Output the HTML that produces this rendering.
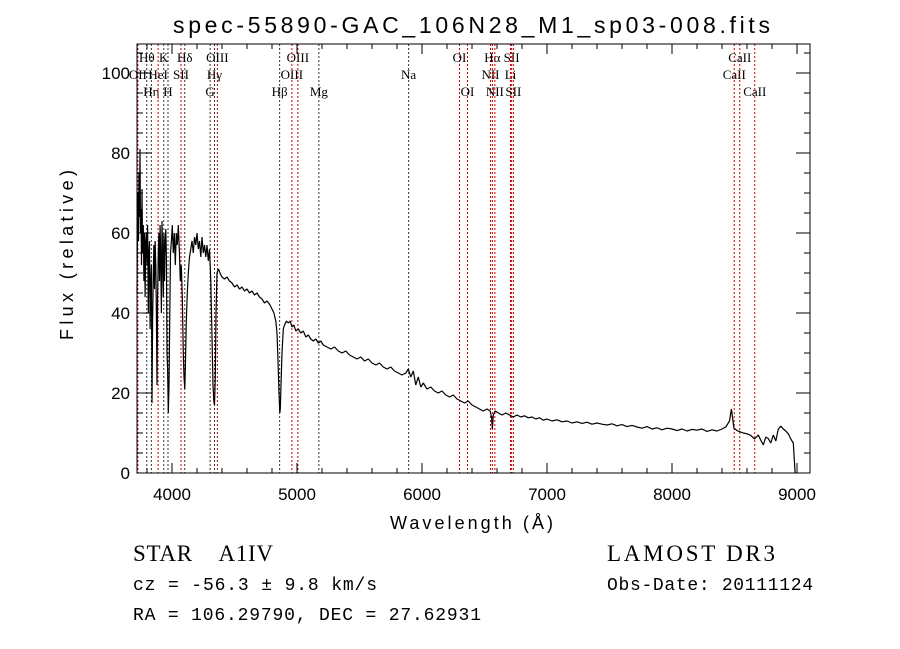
<!DOCTYPE html>
<html><head><meta charset="utf-8"><style>
body{margin:0;background:#fff;}
svg{display:block;font-family:"Liberation Sans",sans-serif;}
</style></head><body>
<svg id="chart" width="900" height="649" viewBox="0 0 900 649">
<text x="173" y="33" font-size="23" textLength="597" lengthAdjust="spacing">spec-55890-GAC_106N28_M1_sp03-008.fits</text>
<g id="lines"></g>
<g id="axes"></g>
<path id="spec" fill="none" stroke="#000" stroke-width="1.2" stroke-linejoin="bevel"/>
<text x="390" y="529" font-size="18" textLength="163" lengthAdjust="spacing">Wavelength (Å)</text>
<text transform="translate(73,340) rotate(-90)" font-size="18" textLength="170" lengthAdjust="spacing">Flux (relative)</text>
<text x="133" y="561" font-size="23" textLength="140" lengthAdjust="spacing" font-family="Liberation Serif,serif">STAR &#160;&#160;&#160;A1IV</text>
<text x="607" y="561" font-size="23" textLength="168" lengthAdjust="spacing" font-family="Liberation Serif,serif">LAMOST DR3</text>
<text x="133" y="590" font-size="18" textLength="244" lengthAdjust="spacing" font-family="Liberation Mono,monospace">cz = -56.3 ± 9.8 km/s</text>
<text x="607" y="590" font-size="18" textLength="206" lengthAdjust="spacing" font-family="Liberation Mono,monospace">Obs-Date: 20111124</text>
<text x="133" y="620" font-size="18" textLength="348" lengthAdjust="spacing" font-family="Liberation Mono,monospace">RA = 106.29790, DEC =  27.62931</text>
</svg>
<script>
const wave=[3720,3724,3728,3732,3736,3740,3744,3748,3752,3756,3760,3765,3770,3775,3780,3785,3790,3795,3800,3805,3810,3815,3820,3825,3830,3835,3840,3845,3850,3855,3860,3865,3870,3875,3880,3885,3890,3895,3900,3905,3910,3915,3920,3925,3930,3935,3940,3945,3950,3955,3960,3965,3970,3976,3982,3988,3995,4002,4010,4018,4026,4034,4042,4050,4058,4066,4074,4082,4090,4096,4102,4108,4114,4122,4130,4140,4150,4160,4170,4180,4190,4200,4210,4220,4230,4240,4250,4260,4270,4280,4290,4300,4310,4320,4328,4334,4340,4346,4352,4360,4372,4384,4400,4420,4440,4460,4480,4500,4520,4540,4560,4580,4600,4620,4640,4660,4680,4700,4720,4740,4760,4784,4800,4815,4830,4840,4848,4856,4862,4866,4872,4880,4890,4900,4915,4930,4945,4960,4975,4990,5010,5030,5050,5070,5090,5110,5130,5150,5170,5190,5210,5240,5270,5300,5330,5360,5390,5420,5450,5480,5510,5540,5570,5600,5630,5660,5690,5720,5750,5780,5810,5840,5870,5890,5910,5930,5950,5970,5990,6010,6040,6070,6100,6130,6160,6190,6220,6250,6280,6310,6340,6370,6400,6430,6460,6490,6520,6545,6556,6563,6570,6585,6610,6640,6670,6700,6730,6760,6790,6820,6850,6880,6910,6940,6970,7000,7040,7080,7120,7160,7200,7240,7280,7320,7360,7400,7440,7480,7520,7560,7600,7640,7680,7720,7760,7800,7840,7880,7920,7960,8000,8040,8080,8120,8160,8200,8240,8280,8320,8360,8400,8430,8460,8475,8488,8495,8505,8520,8545,8570,8600,8630,8660,8690,8710,8730,8750,8770,8790,8810,8830,8850,8870,8890,8910,8930,8950,8970,8985,8995,9000,9002];
const flux=[45,62,70,58,75,64,81,60,66,52,71,55,62,48,60,44,58,60,52,62,40,55,58,36,48,52,17.5,38,50,57,46,58,52,40,22,44,55,60,48,62,52,40,63,55,44,60,48,57,61,54,30,26,15,22,40,55,58,62,55,60,52,60,57,62,56,48,52,44,30,24,21,28,38,45,50,54,56,58,55,59,57,60,56,58,54,59,55,57,54,57,53,56,48,34,22,18,17,24,40,50,51,50,49,48.5,49,48,47.5,46.5,47,46,46.5,45.5,46,45,45.5,44.5,45,44,43.5,42.5,43,42,41,40,38,35,28,20,15,16,22,30,36,37,38,37.5,38,36.5,37,35.5,36,35,35.5,34,34.5,33.5,33,33.5,32.5,33,32,31.5,31,31.5,30.5,30,30.5,29.5,29,28.5,29,28,28.5,27.5,27,27.5,26.5,26,26.5,25.5,25,24.5,25,26,24,25.5,22,24,21.5,22.5,21,21.5,20.5,20,20.5,19.5,19,19.5,18.5,18,17.5,18,17,16.5,16,15.5,16,15.5,14,11,14.5,15.5,15,14.5,15,14.5,14,14.5,14,14.3,13.8,14,13.5,13.8,13.2,13.5,13,13.3,12.8,13,12.5,12.8,12.4,12.7,12.2,12.5,12.2,12,12.3,11.8,12.1,11.6,11.9,11.5,11.2,11.6,11,11.3,10.8,11.2,11,10.6,11,10.5,10.9,10.7,11,10.4,10.8,10.5,11,11.5,13,16,13,11.2,11,10.6,10.3,10,9.8,9.4,8.5,9.5,8.2,7,9,8.6,7.5,9.5,8,11,11.7,11,10.5,9.8,8.5,7.5,0];
const xTicks=[4000,5000,6000,7000,8000,9000];
const yTicks=[0,20,40,60,80,100];
const lineWave=[3727,3798,3835,3889,3934,3968,4072,4102,4305,4340,4363,4861,4959,5007,5175,5893,6300,6364,6548,6563,6583,6708,6717,6731,8498,8542,8662];
const lineLabel=["OII","Hθ","Hη","HeI","K","H","SII","Hδ","G","Hγ","OIII","Hβ","OIII","OIII","Mg","Na","OI","OI","NII","Hα","NII","Li","SII","SII","CaII","CaII","CaII"];
const lineRow=[1,0,2,1,0,2,1,0,2,1,0,2,1,0,2,1,0,2,1,0,2,1,0,2,1,0,2];
const lineRed=[1,0,0,1,0,0,1,0,0,0,1,0,1,1,0,0,1,1,1,1,1,1,1,1,1,1,1];
const L=137,R=810,T=44,B=473;
const X=w=>L+(w-3720)*0.125;
const Y=f=>B-f*4;
const ns="http://www.w3.org/2000/svg";
function mk(tag,attrs,parent){const e=document.createElementNS(ns,tag);for(const k in attrs)e.setAttribute(k,attrs[k]);parent.appendChild(e);return e;}
const lg=document.getElementById('lines');
lineWave.forEach((w,i)=>{
 const l=mk('line',{x1:X(w),x2:X(w),y1:T,y2:B,stroke:lineRed[i]?'#c00':'#333','stroke-width':1,'stroke-dasharray':'2,2'},lg);
 
 
 const t=mk('text',{x:X(w),y:62+lineRow[i]*17,'font-size':13,'text-anchor':'middle','font-family':'Liberation Serif,serif'},lg);
 t.textContent=lineLabel[i];
 
 
});
const ax=document.getElementById('axes');
const fr=mk('rect',{x:L,y:T,width:R-L,height:B-T,fill:'none',stroke:'#000','stroke-width':1},ax);


for(let w=3800;w<=9100;w+=200){const maj=w%1000===0;const h=maj?10:5;
 mk('line',{x1:X(w),x2:X(w),y1:B,y2:B-h,stroke:'#000'},ax);mk('line',{x1:X(w),x2:X(w),y1:T,y2:T+h,stroke:'#000'},ax);}
xTicks.forEach(v=>{const t=mk('text',{x:X(v),y:500,'font-size':17,'text-anchor':'middle'},ax);t.textContent=v;
 
 });
for(let f=0;f<=105;f+=5){const maj=f%20===0;const h=maj?14:6;
 mk('line',{x1:L,x2:L+h,y1:Y(f),y2:Y(f),stroke:'#000'},ax);mk('line',{x1:R,x2:R-h,y1:Y(f),y2:Y(f),stroke:'#000'},ax);}
yTicks.forEach(v=>{const t=mk('text',{x:130,y:Y(v)+6,'font-size':17,'text-anchor':'end'},ax);t.textContent=v;
 
 });
let d='';wave.forEach((w,i)=>{d+=(i?'L':'M')+X(w).toFixed(1)+','+Y(flux[i]).toFixed(1);});
document.getElementById('spec').setAttribute('d',d);
</script>
</body></html>
